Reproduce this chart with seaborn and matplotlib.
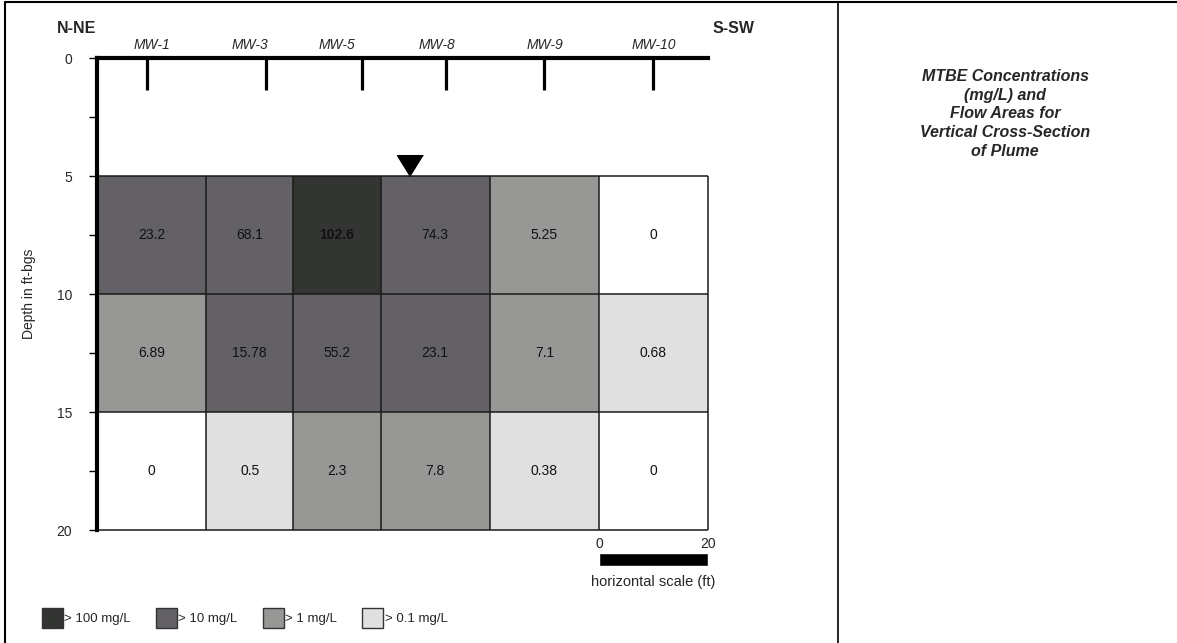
import numpy as np
import pandas as pd
import matplotlib
matplotlib.use("Agg")
import matplotlib.pyplot as plt
import seaborn as sns
from matplotlib.colors import ListedColormap
from matplotlib.patches import Patch
from matplotlib.lines import Line2D

# wells along the section (ft from N-NE end)
wells = ["MW-1", "MW-3", "MW-5", "MW-8", "MW-9", "MW-10"]
well_x = [9.1, 31.0, 48.6, 63.9, 82.0, 102.0]
label_x = [10.1, 28.1, 44.0, 62.4, 82.2, 102.0]

# flow area cells: column edges (ft) and depth edges (ft-bgs)
col_edges = [0, 20, 36, 52, 72, 92, 112]
row_edges = [5, 10, 15, 20]

# MTBE concentrations (mg/L), one row per depth interval
conc = [
    [23.2, 68.1, 102.6, 74.3, 5.25, 0],
    [6.89, 15.78, 55.2, 23.1, 7.1, 0.68],
    [0, 0.5, 2.3, 7.8, 0.38, 0],
]

thresholds = [0.1, 1, 10, 100]
class_colors = ["#ffffff", "#e0e0e0", "#979896", "#636165", "#333532"]
legend_labels = ["> 100 mg/L", "> 10 mg/L", "> 1 mg/L", "> 0.1 mg/L"]

water_x = 57.4
water_depth = 5
scale_start = 92
scale_len = 20

sns.set_style("white")
plt.rcParams["font.family"] = ["Liberation Sans", "DejaVu Sans"]

conc = np.array(conc)
classes = np.digitize(conc, thresholds)

# 1-ft grid so that heatmap coordinates are feet / depth in feet
total_w = col_edges[-1]
total_d = row_edges[-1]
xs = np.arange(total_w) + 0.5
ds = np.arange(total_d) + 0.5
ci = np.searchsorted(col_edges, xs) - 1
ri = np.searchsorted(row_edges, ds) - 1
grid = np.zeros((total_d, total_w))
mask = np.ones((total_d, total_w), dtype=bool)
for r in range(total_d):
    if ri[r] >= 0:
        grid[r] = classes[ri[r], ci]
        mask[r] = False
grid_df = pd.DataFrame(grid)

fig = plt.figure(figsize=(11.77, 6.43), dpi=100)
W, H = 1177, 643
ax = fig.add_axes([97 / W, 1 - 530 / H, 611 / W, 472 / H])

sns.heatmap(grid_df, mask=mask, cmap=ListedColormap(class_colors),
            vmin=-0.5, vmax=4.5, cbar=False, ax=ax,
            xticklabels=False, yticklabels=False)

# frame: thick left and top lines
for side in ["right", "bottom"]:
    ax.spines[side].set_visible(False)
for side in ["left", "top"]:
    ax.spines[side].set_visible(True)
    ax.spines[side].set_linewidth(3)
    ax.spines[side].set_color("black")

ax.set_yticks([0, 5, 10, 15, 20])
ax.set_yticklabels(["0", "5", "10", "15", "20"], fontsize=10)
ax.set_yticks([2.5, 7.5, 12.5, 17.5], minor=True)
ax.tick_params(axis="y", which="both", left=True, length=6, width=1,
               direction="out", pad=12, color="black")
ax.tick_params(axis="x", which="both", bottom=False, top=False)
ax.set_xticks([])
ax.set_ylabel("Depth in ft-bgs", fontsize=10)
ax.yaxis.set_label_coords(-0.1, 0.5)

# cell borders
ax.hlines(row_edges, col_edges[0], col_edges[-1], color="#1a1a1a", lw=1.1,
          clip_on=False)
ax.vlines(col_edges, row_edges[0], row_edges[-1], color="#1a1a1a", lw=1.1,
          clip_on=False)

# concentrations in cells
for r in range(len(row_edges) - 1):
    for c in range(len(col_edges) - 1):
        cx = (col_edges[c] + col_edges[c + 1]) / 2
        cy = (row_edges[r] + row_edges[r + 1]) / 2
        ax.text(cx, cy, f"{conc[r, c]:g}", ha="center", va="center",
                fontsize=10, color="#111111",
                fontweight="bold" if classes[r, c] == 4 else "normal")

# wells
ax.vlines(well_x, 0, 1.36, color="black", lw=2.3, clip_on=False)
for name, lx in zip(wells, label_x):
    ax.text(lx, -0.55, name, ha="center", va="center", fontsize=10,
            style="italic", clip_on=False)
ax.text(-3.7, -1.27, "N-NE", ha="center", va="center", fontsize=11.5,
        fontweight="bold")
ax.text(116.6, -1.27, "S-SW", ha="center", va="center", fontsize=11.5,
        fontweight="bold")

# water table
ax.plot([water_x], [water_depth], marker=[(0, 0), (-0.62, 1), (0.62, 1)],
        ms=30, color="black", clip_on=False)

# horizontal scale bar
ax.barh(21.25, scale_len, left=scale_start, height=0.55, color="black",
        clip_on=False)
ax.text(scale_start, 20.9, "0", ha="center", va="bottom", fontsize=10)
ax.text(scale_start + scale_len, 20.9, "20", ha="center", va="bottom",
        fontsize=10)
ax.text(scale_start + scale_len / 2, 22.2, "horizontal scale (ft)",
        ha="center", va="center", fontsize=10.5)

# legend
handles = [Patch(facecolor=col, edgecolor="#333333", label=lab)
           for col, lab in zip(class_colors[::-1], legend_labels)]
fig.legend(handles=handles, ncol=4, loc="center left",
           bbox_to_anchor=(30 / W, 1 - 618 / H), frameon=False, fontsize=9.5,
           handlelength=1.6, handleheight=1.9, handletextpad=0.1,
           columnspacing=1.9)

# right panel title
fig.text(1005 / W, 1 - 114 / H,
         "MTBE Concentrations\n(mg/L) and\nFlow Areas for\n"
         "Vertical Cross-Section\nof Plume",
         ha="center", va="center", fontsize=11.5, fontweight="bold",
         style="italic", linespacing=1.33)

# page borders
fig.add_artist(Line2D([5 / W, 5 / W], [0, 1 - 2 / H], color="black", lw=1.5))
fig.add_artist(Line2D([5 / W, 1], [1 - 2 / H, 1 - 2 / H], color="black",
                      lw=1.5))
fig.add_artist(Line2D([838 / W, 838 / W], [0, 1 - 2 / H], color="black",
                      lw=1.2))

fig.savefig("out.png", dpi=100)
